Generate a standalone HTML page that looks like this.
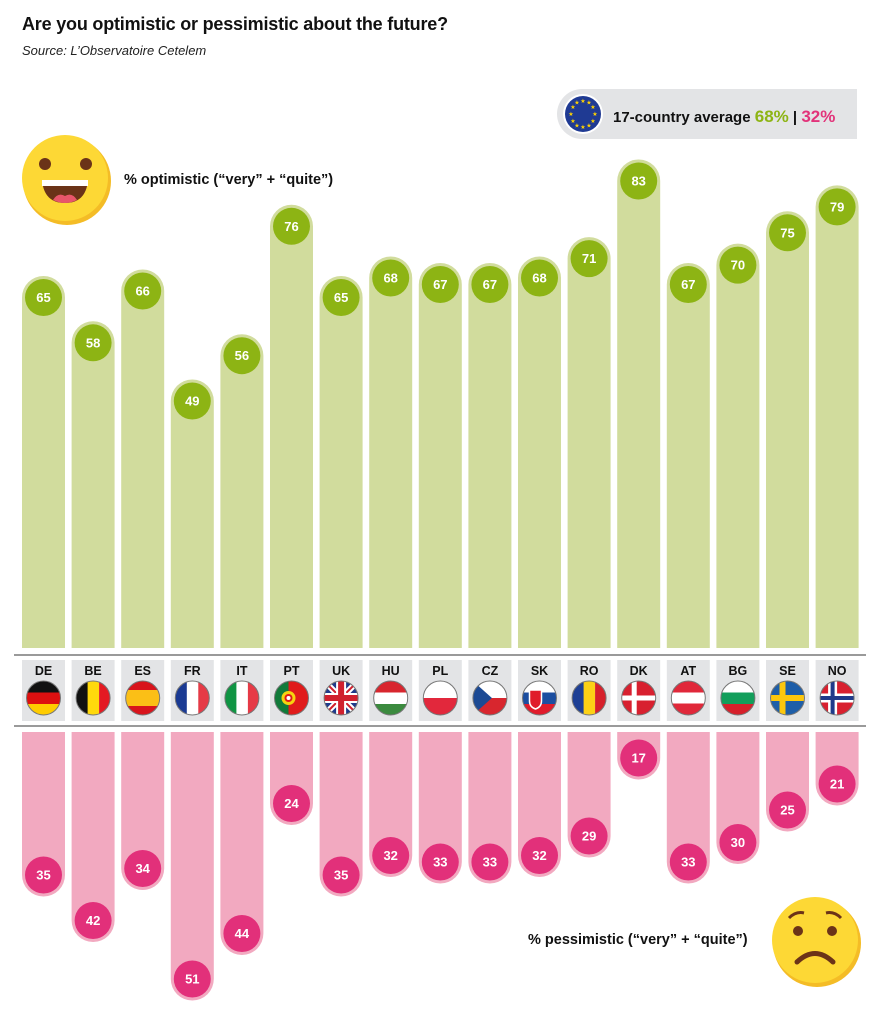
<!DOCTYPE html>
<html><head><meta charset="utf-8"><style>
body{margin:0;background:#fff;}
svg{display:block;font-family:"Liberation Sans",sans-serif;}
</style></head><body>
<svg width="880" height="1015" viewBox="0 0 880 1015" xmlns="http://www.w3.org/2000/svg">
<defs>
<clipPath id="fc"><circle cx="0" cy="0" r="17"/></clipPath>
</defs>
<text x="22" y="30" font-size="18" font-weight="bold" fill="#111" letter-spacing="-0.2">Are you optimistic or pessimistic about the future?</text>
<text x="22" y="55" font-size="13" font-style="italic" fill="#222">Source: L’Observatoire Cetelem</text>

<path d="M582,89 H857 V139 H582 A25 25 0 0 1 582,89 Z" fill="#e3e4e6"/>
<circle cx="583" cy="114" r="20" fill="#fff"/>
<circle cx="583" cy="114" r="18" fill="#1f3a93"/>
<g fill="#ffd400" font-size="6" text-anchor="middle">
<text x="583" y="103">★</text><text x="589" y="104.5">★</text><text x="593" y="109">★</text><text x="595" y="116">★</text><text x="593" y="123">★</text><text x="589" y="127.5">★</text><text x="583" y="129">★</text><text x="577" y="127.5">★</text><text x="573" y="123">★</text><text x="571" y="116">★</text><text x="573" y="109">★</text><text x="577" y="104.5">★</text>
</g>
<text x="613" y="122" font-size="15" font-weight="bold" fill="#111">17-country average <tspan fill="#8db414" font-size="17">68%</tspan> | <tspan fill="#e2337a" font-size="17">32%</tspan></text>

<circle cx="67" cy="181" r="44" fill="#f4bc26"/>
<circle cx="65" cy="178" r="43" fill="#fdd835"/>
<circle cx="45" cy="164" r="6" fill="#6b3318"/>
<circle cx="86" cy="164" r="6" fill="#6b3318"/>
<path d="M42,180 H88 Q86,203 65,203 Q44,203 42,180 Z" fill="#6b3318"/>
<rect x="42" y="180" width="46" height="6" fill="#fff"/>
<path d="M53,200 Q58,192 65,196 Q72,192 77,200 Q65,206 53,200 Z" fill="#e8566a"/>
<text x="124" y="184" font-size="14.5" font-weight="bold" fill="#111">% optimistic (“very” + “quite”)</text>

<circle cx="817" cy="943" r="44" fill="#f4bc26"/>
<circle cx="815" cy="940" r="43" fill="#fdd835"/>
<circle cx="798" cy="931" r="5" fill="#6b3318"/>
<circle cx="832" cy="931" r="5" fill="#6b3318"/>
<path d="M789,918 Q796,911 804,913" stroke="#6b3318" stroke-width="3" fill="none"/>
<path d="M826,913 Q834,911 841,918" stroke="#6b3318" stroke-width="3" fill="none"/>
<path d="M797,962 Q815,945 833,962" stroke="#6b3318" stroke-width="5" fill="none" stroke-linecap="round"/>
<text x="528" y="944" font-size="14.5" font-weight="bold" fill="#111">% pessimistic (“very” + “quite”)</text>

<g fill="#d1dc9d">
<path d="M22,648 V297.5 A21.5 21.5 0 0 1 65,297.5 V648 Z"/>
<path d="M71.6,648 V342.8 A21.5 21.5 0 0 1 114.6,342.8 V648 Z"/>
<path d="M121.2,648 V291 A21.5 21.5 0 0 1 164.2,291 V648 Z"/>
<path d="M170.8,648 V401 A21.5 21.5 0 0 1 213.8,401 V648 Z"/>
<path d="M220.4,648 V355.7 A21.5 21.5 0 0 1 263.4,355.7 V648 Z"/>
<path d="M270,648 V226.3 A21.5 21.5 0 0 1 313,226.3 V648 Z"/>
<path d="M319.6,648 V297.5 A21.5 21.5 0 0 1 362.6,297.5 V648 Z"/>
<path d="M369.2,648 V278 A21.5 21.5 0 0 1 412.2,278 V648 Z"/>
<path d="M418.8,648 V284.5 A21.5 21.5 0 0 1 461.8,284.5 V648 Z"/>
<path d="M468.4,648 V284.5 A21.5 21.5 0 0 1 511.4,284.5 V648 Z"/>
<path d="M518,648 V278 A21.5 21.5 0 0 1 561,278 V648 Z"/>
<path d="M567.6,648 V258.6 A21.5 21.5 0 0 1 610.6,258.6 V648 Z"/>
<path d="M617.2,648 V181 A21.5 21.5 0 0 1 660.2,181 V648 Z"/>
<path d="M666.8,648 V284.5 A21.5 21.5 0 0 1 709.8,284.5 V648 Z"/>
<path d="M716.4,648 V265.1 A21.5 21.5 0 0 1 759.4,265.1 V648 Z"/>
<path d="M766,648 V232.8 A21.5 21.5 0 0 1 809,232.8 V648 Z"/>
<path d="M815.6,648 V206.9 A21.5 21.5 0 0 1 858.6,206.9 V648 Z"/>
</g>
<g fill="#8db414">
<circle cx="43.5" cy="297.5" r="18.5"/><circle cx="93.1" cy="342.8" r="18.5"/><circle cx="142.7" cy="291" r="18.5"/><circle cx="192.3" cy="401" r="18.5"/><circle cx="241.9" cy="355.7" r="18.5"/><circle cx="291.5" cy="226.3" r="18.5"/><circle cx="341.1" cy="297.5" r="18.5"/><circle cx="390.7" cy="278" r="18.5"/><circle cx="440.3" cy="284.5" r="18.5"/><circle cx="489.9" cy="284.5" r="18.5"/><circle cx="539.5" cy="278" r="18.5"/><circle cx="589.1" cy="258.6" r="18.5"/><circle cx="638.7" cy="181" r="18.5"/><circle cx="688.3" cy="284.5" r="18.5"/><circle cx="737.9" cy="265.1" r="18.5"/><circle cx="787.5" cy="232.8" r="18.5"/><circle cx="837.1" cy="206.9" r="18.5"/>
</g>
<g fill="#fff" font-size="13" font-weight="bold" text-anchor="middle">
<text x="43.5" y="302">65</text><text x="93.1" y="347.3">58</text><text x="142.7" y="295.5">66</text><text x="192.3" y="405.5">49</text><text x="241.9" y="360.2">56</text><text x="291.5" y="230.8">76</text><text x="341.1" y="302">65</text><text x="390.7" y="282.5">68</text><text x="440.3" y="289">67</text><text x="489.9" y="289">67</text><text x="539.5" y="282.5">68</text><text x="589.1" y="263.1">71</text><text x="638.7" y="185.5">83</text><text x="688.3" y="289">67</text><text x="737.9" y="269.6">70</text><text x="787.5" y="237.3">75</text><text x="837.1" y="211.4">79</text>
</g>

<rect x="14" y="654" width="852" height="2" fill="#9a9a9a"/>
<rect x="14" y="725" width="852" height="2" fill="#9a9a9a"/>

<g fill="#e3e4e6">
<rect x="22" y="660" width="43" height="61"/><rect x="71.6" y="660" width="43" height="61"/><rect x="121.2" y="660" width="43" height="61"/><rect x="170.8" y="660" width="43" height="61"/><rect x="220.4" y="660" width="43" height="61"/><rect x="270" y="660" width="43" height="61"/><rect x="319.6" y="660" width="43" height="61"/><rect x="369.2" y="660" width="43" height="61"/><rect x="418.8" y="660" width="43" height="61"/><rect x="468.4" y="660" width="43" height="61"/><rect x="518" y="660" width="43" height="61"/><rect x="567.6" y="660" width="43" height="61"/><rect x="617.2" y="660" width="43" height="61"/><rect x="666.8" y="660" width="43" height="61"/><rect x="716.4" y="660" width="43" height="61"/><rect x="766" y="660" width="43" height="61"/><rect x="815.6" y="660" width="43" height="61"/>
</g>
<g fill="#111" font-size="12.5" font-weight="bold" text-anchor="middle">
<text x="43.5" y="675">DE</text><text x="93.1" y="675">BE</text><text x="142.7" y="675">ES</text><text x="192.3" y="675">FR</text><text x="241.9" y="675">IT</text><text x="291.5" y="675">PT</text><text x="341.1" y="675">UK</text><text x="390.7" y="675">HU</text><text x="440.3" y="675">PL</text><text x="489.9" y="675">CZ</text><text x="539.5" y="675">SK</text><text x="589.1" y="675">RO</text><text x="638.7" y="675">DK</text><text x="688.3" y="675">AT</text><text x="737.9" y="675">BG</text><text x="787.5" y="675">SE</text><text x="837.1" y="675">NO</text>
</g>

<g transform="translate(43.5,698)"><g clip-path="url(#fc)"><rect x="-17" y="-17" width="34" height="12" fill="#111"/><rect x="-17" y="-5.5" width="34" height="11.5" fill="#dd1010"/><rect x="-17" y="6" width="34" height="11" fill="#ffcc00"/></g><circle r="17" fill="none" stroke="#777" stroke-width="1"/></g>
<g transform="translate(93.1,698)"><g clip-path="url(#fc)"><rect x="-17" y="-17" width="12" height="34" fill="#111"/><rect x="-5.5" y="-17" width="11.5" height="34" fill="#ffd90c"/><rect x="6" y="-17" width="11" height="34" fill="#e41a22"/></g><circle r="17" fill="none" stroke="#777"/></g>
<g transform="translate(142.7,698)"><g clip-path="url(#fc)"><rect x="-17" y="-17" width="34" height="34" fill="#d8141c"/><rect x="-17" y="-8" width="34" height="16" fill="#fbbf16"/></g><circle r="17" fill="none" stroke="#777"/></g>
<g transform="translate(192.3,698)"><g clip-path="url(#fc)"><rect x="-17" y="-17" width="12" height="34" fill="#1a3a93"/><rect x="-5.5" y="-17" width="11.5" height="34" fill="#fff"/><rect x="6" y="-17" width="11" height="34" fill="#e63a46"/></g><circle r="17" fill="none" stroke="#777"/></g>
<g transform="translate(241.9,698)"><g clip-path="url(#fc)"><rect x="-17" y="-17" width="12" height="34" fill="#0f9443"/><rect x="-5.5" y="-17" width="11.5" height="34" fill="#fff"/><rect x="6" y="-17" width="11" height="34" fill="#e63a46"/></g><circle r="17" fill="none" stroke="#777"/></g>
<g transform="translate(291.5,698)"><g clip-path="url(#fc)"><rect x="-17" y="-17" width="34" height="34" fill="#e01b1b"/><rect x="-17" y="-17" width="14" height="34" fill="#117a3a"/><circle cx="-3" cy="0" r="7" fill="#f6d30f"/><circle cx="-3" cy="0" r="4" fill="#e01b1b"/><circle cx="-3" cy="0" r="2" fill="#fff"/></g><circle r="17" fill="none" stroke="#777"/></g>
<g transform="translate(341.1,698)"><g clip-path="url(#fc)"><rect x="-17" y="-17" width="34" height="34" fill="#1f3a8a"/><path d="M-17,-17 L17,17 M17,-17 L-17,17" stroke="#fff" stroke-width="6"/><path d="M-17,-17 L17,17 M17,-17 L-17,17" stroke="#d0202e" stroke-width="2"/><rect x="-17" y="-5" width="34" height="10" fill="#fff"/><rect x="-5" y="-17" width="10" height="34" fill="#fff"/><rect x="-17" y="-3" width="34" height="6" fill="#d0202e"/><rect x="-3" y="-17" width="6" height="34" fill="#d0202e"/></g><circle r="17" fill="none" stroke="#777"/></g>
<g transform="translate(390.7,698)"><g clip-path="url(#fc)"><rect x="-17" y="-17" width="34" height="12" fill="#d8262e"/><rect x="-17" y="-5.5" width="34" height="11.5" fill="#fff"/><rect x="-17" y="6" width="34" height="11" fill="#3b8a3e"/></g><circle r="17" fill="none" stroke="#777"/></g>
<g transform="translate(440.3,698)"><g clip-path="url(#fc)"><rect x="-17" y="-17" width="34" height="17" fill="#fff"/><rect x="-17" y="0" width="34" height="17" fill="#e2283c"/></g><circle r="17" fill="none" stroke="#777"/></g>
<g transform="translate(489.9,698)"><g clip-path="url(#fc)"><rect x="-17" y="-17" width="34" height="17" fill="#fff"/><rect x="-17" y="0" width="34" height="17" fill="#d8262e"/><path d="M-17,-17 L2,0 L-17,17 Z" fill="#1c4a94"/></g><circle r="17" fill="none" stroke="#777"/></g>
<g transform="translate(539.5,698)"><g clip-path="url(#fc)"><rect x="-17" y="-17" width="34" height="12" fill="#fff"/><rect x="-17" y="-5.5" width="34" height="11.5" fill="#1c4ea0"/><rect x="-17" y="6" width="34" height="11" fill="#e01b2b"/><path d="M-10,-8 H2 V3 Q2,9 -4,11 Q-10,9 -10,3 Z" fill="#e01b2b" stroke="#fff" stroke-width="1.5"/></g><circle r="17" fill="none" stroke="#777"/></g>
<g transform="translate(589.1,698)"><g clip-path="url(#fc)"><rect x="-17" y="-17" width="12" height="34" fill="#1d3f95"/><rect x="-5.5" y="-17" width="11.5" height="34" fill="#fcd116"/><rect x="6" y="-17" width="11" height="34" fill="#d6202b"/></g><circle r="17" fill="none" stroke="#777"/></g>
<g transform="translate(638.7,698)"><g clip-path="url(#fc)"><rect x="-17" y="-17" width="34" height="34" fill="#d8202f"/><rect x="-17" y="-2.5" width="34" height="5" fill="#fff"/><rect x="-7" y="-17" width="5" height="34" fill="#fff"/></g><circle r="17" fill="none" stroke="#777"/></g>
<g transform="translate(688.3,698)"><g clip-path="url(#fc)"><rect x="-17" y="-17" width="34" height="34" fill="#e0283a"/><rect x="-17" y="-5.5" width="34" height="11" fill="#fff"/></g><circle r="17" fill="none" stroke="#777"/></g>
<g transform="translate(737.9,698)"><g clip-path="url(#fc)"><rect x="-17" y="-17" width="34" height="12" fill="#fff"/><rect x="-17" y="-5.5" width="34" height="11.5" fill="#129e5b"/><rect x="-17" y="6" width="34" height="11" fill="#d6202b"/></g><circle r="17" fill="none" stroke="#777"/></g>
<g transform="translate(787.5,698)"><g clip-path="url(#fc)"><rect x="-17" y="-17" width="34" height="34" fill="#1e5ea8"/><rect x="-17" y="-3" width="34" height="6" fill="#fcc70e"/><rect x="-8" y="-17" width="6" height="34" fill="#fcc70e"/></g><circle r="17" fill="none" stroke="#777"/></g>
<g transform="translate(837.1,698)"><g clip-path="url(#fc)"><rect x="-17" y="-17" width="34" height="34" fill="#d8202f"/><rect x="-17" y="-4.5" width="34" height="9" fill="#fff"/><rect x="-9" y="-17" width="9" height="34" fill="#fff"/><rect x="-17" y="-2" width="34" height="4" fill="#1f3a8a"/><rect x="-6.5" y="-17" width="4" height="34" fill="#1f3a8a"/></g><circle r="17" fill="none" stroke="#777"/></g>

<g fill="#f2a9c0">
<path d="M22,732 V875 A21.5 21.5 0 0 0 65,875 V732 Z"/>
<path d="M71.6,732 V920.5 A21.5 21.5 0 0 0 114.6,920.5 V732 Z"/>
<path d="M121.2,732 V868.5 A21.5 21.5 0 0 0 164.2,868.5 V732 Z"/>
<path d="M170.8,732 V979 A21.5 21.5 0 0 0 213.8,979 V732 Z"/>
<path d="M220.4,732 V933.5 A21.5 21.5 0 0 0 263.4,933.5 V732 Z"/>
<path d="M270,732 V803.5 A21.5 21.5 0 0 0 313,803.5 V732 Z"/>
<path d="M319.6,732 V875 A21.5 21.5 0 0 0 362.6,875 V732 Z"/>
<path d="M369.2,732 V855.5 A21.5 21.5 0 0 0 412.2,855.5 V732 Z"/>
<path d="M418.8,732 V862 A21.5 21.5 0 0 0 461.8,862 V732 Z"/>
<path d="M468.4,732 V862 A21.5 21.5 0 0 0 511.4,862 V732 Z"/>
<path d="M518,732 V855.5 A21.5 21.5 0 0 0 561,855.5 V732 Z"/>
<path d="M567.6,732 V836 A21.5 21.5 0 0 0 610.6,836 V732 Z"/>
<path d="M617.2,732 V758 A21.5 21.5 0 0 0 660.2,758 V732 Z"/>
<path d="M666.8,732 V862 A21.5 21.5 0 0 0 709.8,862 V732 Z"/>
<path d="M716.4,732 V842.5 A21.5 21.5 0 0 0 759.4,842.5 V732 Z"/>
<path d="M766,732 V810 A21.5 21.5 0 0 0 809,810 V732 Z"/>
<path d="M815.6,732 V784 A21.5 21.5 0 0 0 858.6,784 V732 Z"/>
</g>
<g fill="#e2307a">
<circle cx="43.5" cy="875" r="18.5"/><circle cx="93.1" cy="920.5" r="18.5"/><circle cx="142.7" cy="868.5" r="18.5"/><circle cx="192.3" cy="979" r="18.5"/><circle cx="241.9" cy="933.5" r="18.5"/><circle cx="291.5" cy="803.5" r="18.5"/><circle cx="341.1" cy="875" r="18.5"/><circle cx="390.7" cy="855.5" r="18.5"/><circle cx="440.3" cy="862" r="18.5"/><circle cx="489.9" cy="862" r="18.5"/><circle cx="539.5" cy="855.5" r="18.5"/><circle cx="589.1" cy="836" r="18.5"/><circle cx="638.7" cy="758" r="18.5"/><circle cx="688.3" cy="862" r="18.5"/><circle cx="737.9" cy="842.5" r="18.5"/><circle cx="787.5" cy="810" r="18.5"/><circle cx="837.1" cy="784" r="18.5"/>
</g>
<g fill="#fff" font-size="13" font-weight="bold" text-anchor="middle">
<text x="43.5" y="879.5">35</text><text x="93.1" y="925">42</text><text x="142.7" y="873">34</text><text x="192.3" y="983.5">51</text><text x="241.9" y="938">44</text><text x="291.5" y="808">24</text><text x="341.1" y="879.5">35</text><text x="390.7" y="860">32</text><text x="440.3" y="866.5">33</text><text x="489.9" y="866.5">33</text><text x="539.5" y="860">32</text><text x="589.1" y="840.5">29</text><text x="638.7" y="762.5">17</text><text x="688.3" y="866.5">33</text><text x="737.9" y="847">30</text><text x="787.5" y="814.5">25</text><text x="837.1" y="788.5">21</text>
</g>
</svg>
</body></html>
